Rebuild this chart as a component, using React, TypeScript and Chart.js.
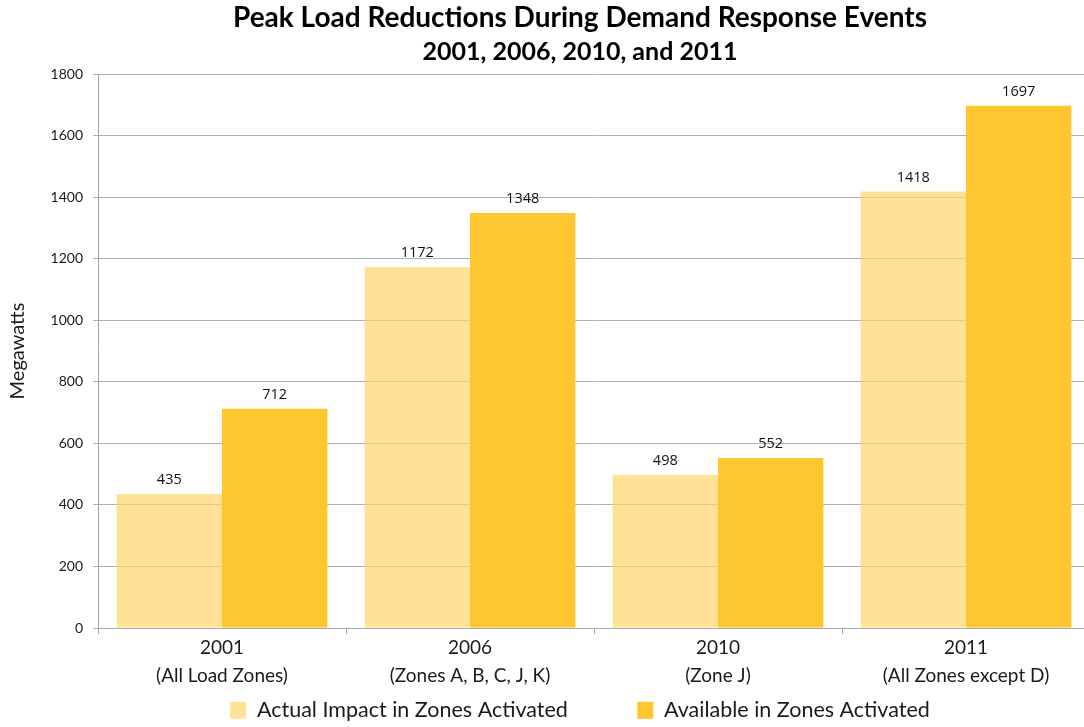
import React, { useEffect, useRef } from "react";
import { Chart, registerables } from "chart.js";

Chart.register(...registerables);

const categories: string[][] = [
  ["2001", "(All Load Zones)"],
  ["2006", "(Zones A, B, C, J, K)"],
  ["2010", "(Zone J)"],
  ["2011", "(All Zones except D)"],
];
const actualImpact: number[] = [435, 1172, 498, 1418];
const available: number[] = [712, 1348, 552, 1697];
const seriesNames: string[] = ["Actual Impact in Zones Activated", "Available in Zones Activated"];
const titleText = "Peak Load Reductions During Demand Response Events";
const subtitleText = "2001, 2006, 2010, and 2011";
const yAxisTitle = "Megawatts";
const yMin = 0;
const yMax = 1800;
const yStep = 200;

const FONT = "Lato, 'Noto Sans', sans-serif";
const LEGEND_GAP = "\u2003\u2003\u2003  ";

const valueLabels = {
  id: "valueLabels",
  afterDatasetsDraw(chart: any) {
    const ctx = chart.ctx;
    ctx.save();
    ctx.font = "14.5px 'Open Sans', sans-serif";
    ctx.fillStyle = "#111";
    ctx.textAlign = "center";
    ctx.textBaseline = "alphabetic";
    chart.data.datasets.forEach((ds: any, i: number) => {
      const meta = chart.getDatasetMeta(i);
      meta.data.forEach((el: any, j: number) => {
        ctx.fillText(String(ds.data[j]), el.x, el.y - 10);
      });
    });
    ctx.restore();
  },
};

export default function App() {
  const ref = useRef<HTMLCanvasElement | null>(null);
  useEffect(() => {
    document.body.style.margin = "0";
    document.body.style.overflow = "hidden";
    const canvas = ref.current!;
    const chart = new Chart(canvas, {
      type: "bar",
      data: {
        labels: categories,
        datasets: [
          {
            label: seriesNames[0],
            data: actualImpact,
            backgroundColor: "rgba(254,214,105,0.7)",
            borderWidth: 0,
            categoryPercentage: 0.85,
            barPercentage: 1.0,
          },
          {
            label: seriesNames[1],
            data: available,
            backgroundColor: "#FEC62F",
            borderWidth: 0,
            categoryPercentage: 0.85,
            barPercentage: 1.0,
          },
        ],
      },
      options: {
        animation: false,
        responsive: false,
        maintainAspectRatio: false,
        layout: { padding: 0 },
        plugins: {
          title: {
            display: true,
            text: titleText,
            color: "#000",
            font: { family: FONT, size: 28, weight: "bold", lineHeight: 34 / 28 },
            padding: { top: 1, bottom: 0 },
          },
          subtitle: {
            display: true,
            text: subtitleText,
            color: "#000",
            font: { family: FONT, size: 25, weight: "bold", lineHeight: 34 / 25 },
            padding: { top: 0, bottom: 5 },
          },
          legend: {
            position: "bottom",
            labels: {
              font: { family: FONT, size: 21.5 },
              color: "#1a1a1a",
              boxWidth: 16,
              boxHeight: 17,
              padding: 10,
              generateLabels: (c: any) => {
                const items = Chart.defaults.plugins.legend.labels.generateLabels(c);
                items.forEach((it: any, i: number) => {
                  it.lineWidth = 0;
                  if (i < items.length - 1) it.text = it.text + LEGEND_GAP;
                });
                return items;
              },
            },
          },
          tooltip: { enabled: false },
        },
        scales: {
          x: {
            grid: {
              drawOnChartArea: false,
              drawTicks: true,
              tickLength: 6,
              color: "#a6a6a6",
              offset: true,
            },
            border: { color: "#a6a6a6" },
            ticks: {
              font: { family: FONT, size: 19, lineHeight: 28 / 19 },
              color: "#1a1a1a",
              padding: 0,
              maxRotation: 0,
              autoSkip: false,
            },
            afterFit: (s: any) => {
              s.height = 61.5;
            },
          },
          y: {
            min: yMin,
            max: yMax,
            ticks: {
              stepSize: yStep,
              font: { family: FONT, size: 14 },
              color: "#1a1a1a",
              padding: 10,
              callback: (v: any) => String(v),
            },
            grid: { color: "#b0b0b0", tickLength: 5, drawTicks: true },
            border: { color: "#a6a6a6" },
            title: {
              display: true,
              text: yAxisTitle,
              font: { family: FONT, size: 20 },
              color: "#1a1a1a",
              padding: { top: 6, bottom: 0 },
            },
            afterFit: (s: any) => {
              s.width = 98;
            },
          },
          yRight: {
            type: "linear",
            position: "right",
            display: true,
            grid: { display: false, drawTicks: false },
            border: { display: false },
            ticks: { display: false },
            afterFit: (s: any) => {
              s.width = 70;
            },
          },
        },
      },
      plugins: [valueLabels],
    });
    return () => chart.destroy();
  }, []);
  return (
    <div style={{ width: 1160, height: 731, overflow: "hidden" }}>
      <canvas ref={ref} width={1160} height={731} style={{ display: "block", width: 1160, height: 731 }} />
    </div>
  );
}
